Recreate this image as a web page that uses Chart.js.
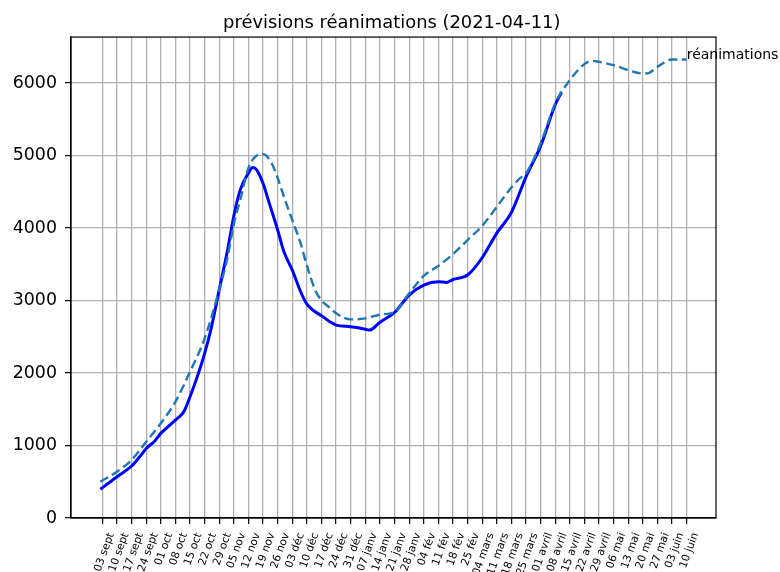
<!DOCTYPE html>
<html>
<head>
<meta charset="utf-8">
<script src="https://cdn.jsdelivr.net/npm/chart.js@4/dist/chart.umd.min.js"></script>
<style>
	html, body { margin: 0; padding: 0; background: #fff; }
	#wrap { width: 780px; height: 572px; }
</style>
</head>
<body>
<div id="wrap"><canvas id="chart"></canvas></div>
<script>
"use strict";

const titleText = "prévisions réanimations (2021-04-11)";
const seriesLabel = "réanimations";

// one label per week, day 0 = 03 sept
const weekLabels = [
	"03 sept", "10 sept", "17 sept", "24 sept",
	"01 oct", "08 oct", "15 oct", "22 oct", "29 oct",
	"05 nov", "12 nov", "19 nov", "26 nov",
	"03 déc", "10 déc", "17 déc", "24 déc", "31 déc",
	"07 janv", "14 janv", "21 janv", "28 janv",
	"04 fév", "11 fév", "18 fév", "25 fév",
	"04 mars", "11 mars", "18 mars", "25 mars",
	"01 avril", "08 avril", "15 avril", "22 avril", "29 avril",
	"06 mai", "13 mai", "20 mai", "27 mai",
	"03 juin", "10 juin",
];

const yTicks = [0, 1000, 2000, 3000, 4000, 5000, 6000];

// observed (solid blue)
const observedDays = [
	-1, 7, 14, 18, 21, 25, 28, 32, 35, 39, 42, 46, 49, 52, 56, 60, 63, 66, 70, 72,
	74, 77, 80, 84, 87, 91, 95, 98, 102, 105, 109, 112, 119, 126, 128, 133, 140, 147,
	154, 161, 165, 168, 175, 182, 189, 196, 203, 210, 217, 220,
];
const observedValues = [
	396, 570, 717, 850, 960, 1060, 1168, 1273, 1351, 1466, 1673, 1995, 2271, 2600, 3150, 3700, 4170, 4523, 4760, 4836,
	4800, 4615, 4340, 3972, 3672, 3420, 3121, 2950, 2845, 2790, 2707, 2661, 2638, 2605, 2592, 2700, 2835, 3075,
	3213, 3259, 3250, 3290, 3351, 3590, 3930, 4215, 4707, 5130, 5700, 5870,
];

// forecast (dashed)
const forecastDays = [
	-1, 7, 14, 21, 28, 35, 42, 49, 56, 60, 63, 66, 70, 74, 77, 81, 84, 87, 91, 95,
	98, 102, 105, 109, 112, 119, 126, 133, 140, 147, 154, 161, 168, 175, 182, 189, 196, 200,
	203, 210, 217, 224, 231, 235, 238, 245, 252, 259, 262, 266, 273, 280,
];
const forecastValues = [
	501, 639, 800, 1052, 1306, 1604, 2018, 2478, 3150, 3600, 4060, 4380, 4830, 5000, 5020, 4900, 4690, 4431, 4110, 3788,
	3480, 3144, 3000, 2900, 2823, 2740, 2754, 2805, 2845, 3100, 3340, 3478, 3640, 3834, 4030, 4293, 4560, 4684,
	4753, 5167, 5719, 6040, 6261, 6306, 6292, 6247, 6178, 6132, 6141, 6224, 6325, 6325,
];

function toPoints(days, values) {
	return days.map((d, i) => ({ x: d, y: values[i] }));
}

const FONT = "'DejaVu Sans', sans-serif";

const firstDay = Math.min(observedDays[0], forecastDays[0]);
const lastDay = forecastDays[forecastDays.length - 1];
const margin = (lastDay - firstDay) * 0.05;

// box around the plot + text at end of the forecast
const framePlugin = {
	id: "frame",
	afterDatasetsDraw(chart) {
		const { ctx, chartArea: a, scales } = chart;
		ctx.save();
		ctx.strokeStyle = "#000";
		ctx.lineWidth = 1.2;
		ctx.strokeRect(a.left, a.top, a.right - a.left, a.bottom - a.top);

		const lx = scales.x.getPixelForValue(lastDay);
		const ly = scales.y.getPixelForValue(forecastValues[forecastValues.length - 1]);
		ctx.fillStyle = "#000";
		ctx.font = "14px " + FONT;
		ctx.textAlign = "left";
		ctx.textBaseline = "alphabetic";
		ctx.fillText(seriesLabel, lx, ly);
		ctx.restore();
	},
};

new Chart(document.getElementById("chart"), {
	type: "line",
	data: {
		datasets: [
			{
				label: seriesLabel,
				data: toPoints(forecastDays, forecastValues),
				borderColor: "#1f77b4",
				borderWidth: 2.4,
				borderDash: [9, 4.5],
				pointRadius: 0,
				cubicInterpolationMode: "monotone",
				order: 0,
			},
			{
				label: "observé",
				data: toPoints(observedDays, observedValues),
				borderColor: "#0000ff",
				borderWidth: 3,
				pointRadius: 0,
				cubicInterpolationMode: "monotone",
				order: 1,
			},
		],
	},
	options: {
		responsive: true,
		maintainAspectRatio: false,
		animation: false,
		layout: { padding: { left: 3.5, right: 0, top: 0, bottom: 0 } },
		plugins: {
			legend: { display: false },
			tooltip: { enabled: false },
			title: {
				display: true,
				text: titleText,
				color: "#000",
				font: { family: FONT, size: 17.9, weight: "normal" },
				padding: { top: 12.2, bottom: 3.4 },
			},
		},
		scales: {
			x: {
				type: "linear",
				min: firstDay - margin,
				max: lastDay + margin,
				afterBuildTicks: axis => {
					axis.ticks = weekLabels.map((_, i) => ({ value: i * 7 }));
				},
				afterFit: axis => { axis.height = 54; },
				grid: { color: "#b0b0b0", lineWidth: 1.3, tickLength: 6, tickColor: "#000", tickWidth: 1.2 },
				border: { color: "#000", width: 1.2 },
				ticks: {
					autoSkip: false,
					minRotation: 70,
					maxRotation: 70,
					padding: 7,
					labelOffset: 9,
					color: "#000",
					font: { family: FONT, size: 10.8 },
					callback: v => weekLabels[Math.round(v / 7)],
				},
			},
			y: {
				min: 0,
				max: 6634,
				afterBuildTicks: axis => {
					axis.ticks = yTicks.map(v => ({ value: v }));
				},
				afterFit: axis => { axis.width = 67.5; },
				grid: { color: "#b0b0b0", lineWidth: 1.3, tickLength: 6, tickColor: "#000", tickWidth: 1.2 },
				border: { color: "#000", width: 1.2 },
				ticks: {
					padding: 8,
					color: "#000",
					font: { family: FONT, size: 17.4 },
					callback: v => String(v),
				},
			},
			// empty space on the right, keeps the title centred over the plot
			side: {
				type: "linear",
				position: "right",
				afterFit: axis => { axis.width = 64; },
				grid: { display: false },
				border: { display: false },
				ticks: { display: false },
			},
		},
	},
	plugins: [framePlugin],
});
</script>
</body>
</html>
